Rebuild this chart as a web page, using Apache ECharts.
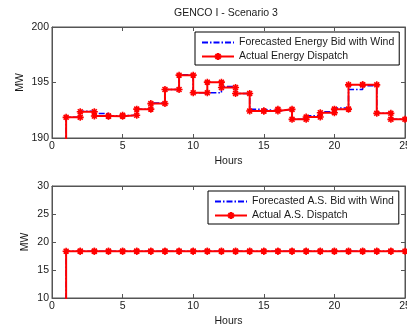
<!DOCTYPE html>
<html>
<head>
<meta charset="utf-8">
<script src="https://cdn.jsdelivr.net/npm/echarts@6/dist/echarts.min.js"></script>
<style>
  html, body { margin: 0; padding: 0; background: #fff; }
  #main { width: 407px; height: 329px; }
</style>
</head>
<body>
<div id="main"></div>
<script>
var hours = [1, 2, 3, 4, 5, 6, 7, 8, 9, 10, 11, 12, 13, 14, 15, 16, 17, 18, 19, 20, 21, 22, 23, 24]
var energyForecast = [191.86, 192.42, 192.2, 192.0, 192.05, 192.6, 193.15, 194.37, 195.7, 194.07, 194.07, 194.65,
  194.01, 192.6, 192.43, 192.58, 191.68, 192.0, 192.37, 192.7, 194.37, 194.7, 192.22, 191.68]
var energyActual = [191.86, 192.37, 191.98, 191.97, 192.05, 192.6, 193.1, 194.37, 195.66, 194.07, 195.03, 194.55,
  194.01, 192.43, 192.43, 192.58, 191.68, 191.89, 192.28, 192.6, 194.79, 194.79, 192.22, 191.68]
var asForecast = [18.35, 18.35, 18.35, 18.35, 18.35, 18.35, 18.35, 18.35, 18.35, 18.35, 18.35, 18.35,
  18.35, 18.35, 18.35, 18.35, 18.35, 18.35, 18.35, 18.35, 18.35, 18.35, 18.35, 18.35]
var asActual = [18.35, 18.35, 18.35, 18.35, 18.35, 18.35, 18.35, 18.35, 18.35, 18.35, 18.35, 18.35,
  18.35, 18.35, 18.35, 18.35, 18.35, 18.35, 18.35, 18.35, 18.35, 18.35, 18.35, 18.35]
var xTicks = [0, 5, 10, 15, 20, 25]

// matlab style stairs: starts from 0 at hour 0, corners get markers too
function stairs(vals) {
  var pts = [[0, 0], [hours[0], 0]]
  for (var i = 0; i < vals.length; i++) {
    pts.push([hours[i], vals[i]])
    pts.push([hours[i] + 1, vals[i]])
  }
  return pts
}

var font = 'Liberation Sans, Arial, sans-serif'
var fs = 10.5
var txt = '#1a1a1a'
var axisCol = '#555'
var star = 'path://M0,5 L10,5 M5,0 L5,10 M1.5,1.5 L8.5,8.5 M8.5,1.5 L1.5,8.5'

function xAx(grid, pos) {
  var main = pos === 'bottom'
  return {
    type: 'value', gridIndex: grid, position: pos,
    min: xTicks[0], max: xTicks[xTicks.length - 1], interval: 5,
    name: main ? 'Hours' : '', nameLocation: 'middle', nameGap: 18, nameMoveOverlap: false,
    nameTextStyle: { fontFamily: font, fontSize: fs, color: txt },
    axisLine: { show: true, onZero: false, lineStyle: { color: axisCol, width: 1 } },
    axisTick: { show: true, inside: true, length: 4, lineStyle: { color: axisCol } },
    axisLabel: { show: main, margin: 3, fontFamily: font, fontSize: fs, color: txt },
    splitLine: { show: false }
  }
}
function yAx(grid, pos, mn, mx, gap) {
  var main = pos === 'left'
  return {
    type: 'value', gridIndex: grid, position: pos,
    min: mn, max: mx, interval: 5,
    name: main ? 'MW' : '', nameLocation: 'middle', nameGap: gap, nameRotate: 90, nameMoveOverlap: false,
    nameTextStyle: { fontFamily: font, fontSize: fs, color: txt },
    axisLine: { show: true, onZero: false, lineStyle: { color: axisCol, width: 1 } },
    axisTick: { show: true, inside: true, length: 4, lineStyle: { color: axisCol } },
    axisLabel: { show: main, margin: 3, fontFamily: font, fontSize: fs, color: txt },
    splitLine: { show: false }
  }
}
function blueLine(name, idx, vals) {
  return {
    name: name, type: 'line', xAxisIndex: idx, yAxisIndex: idx,
    data: stairs(vals), showSymbol: false, symbol: 'path://M0,0L1,1', animation: false,
    lineStyle: { color: '#0000ff', width: 1.5, type: [6, 2, 1.5, 2] },
    itemStyle: { color: '#0000ff' }
  }
}
function redLine(name, idx, vals) {
  return {
    name: name, type: 'line', xAxisIndex: idx, yAxisIndex: idx,
    data: stairs(vals), symbol: star, symbolSize: 7, animation: false,
    lineStyle: { color: '#ff0000', width: 2 },
    itemStyle: { color: '#ff0000', borderColor: '#ff0000', borderWidth: 1.6 }
  }
}
function legendBox(top, left, names) {
  return {
    orient: 'vertical', left: left, top: top, data: names,
    backgroundColor: '#fff', borderColor: '#000', borderWidth: 1, borderRadius: 0,
    padding: [5, 5, 3, 6], itemGap: 3, itemWidth: 32, itemHeight: 9,
    textStyle: { fontFamily: font, fontSize: fs, color: txt }, selectedMode: false
  }
}

var chart = echarts.init(document.getElementById('main'), null, { renderer: 'canvas' })
var option = {
  backgroundColor: '#fff',
  animation: false,
  title: {
    text: 'GENCO I - Scenario 3', left: 169, top: 3,
    textStyle: { fontFamily: font, fontSize: fs, fontWeight: 'normal', color: txt }
  },
  legend: [
    legendBox(32, 195, ['Forecasted Energy Bid with Wind', 'Actual Energy Dispatch']),
    legendBox(191, 208, ['Forecasted A.S. Bid with Wind', 'Actual A.S. Dispatch'])
  ],
  grid: [
    { left: 52, top: 27, width: 353, height: 111, show: true, borderColor: axisCol, borderWidth: 1, outerBoundsMode: 'none', containLabel: false },
    { left: 52, top: 186, width: 353, height: 112, show: true, borderColor: axisCol, borderWidth: 1, outerBoundsMode: 'none', containLabel: false }
  ],
  xAxis: [xAx(0, 'bottom'), xAx(1, 'bottom'), xAx(0, 'top'), xAx(1, 'top')],
  yAxis: [yAx(0, 'left', 190, 200, 26), yAx(1, 'left', 10, 30, 21), yAx(0, 'right', 190, 200, 0), yAx(1, 'right', 10, 30, 0)],
  series: [
    blueLine('Forecasted Energy Bid with Wind', 0, energyForecast),
    redLine('Actual Energy Dispatch', 0, energyActual),
    blueLine('Forecasted A.S. Bid with Wind', 1, asForecast),
    redLine('Actual A.S. Dispatch', 1, asActual)
  ]
}
chart.setOption(option)
</script>
</body>
</html>
